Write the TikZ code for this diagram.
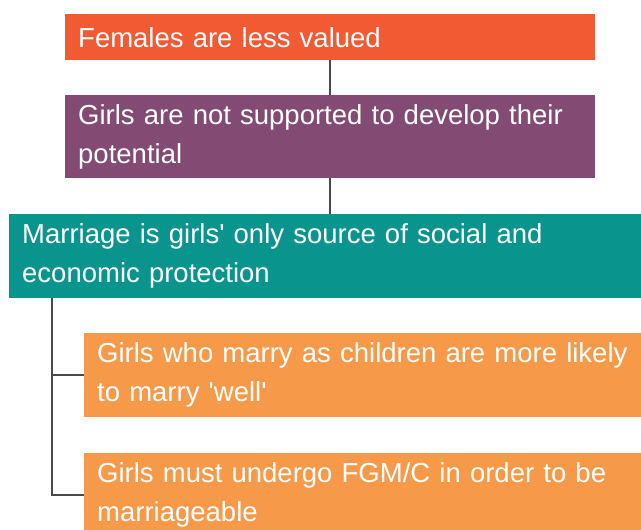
\documentclass[tikz,border=0pt]{standalone}
\usepackage{fontspec}
\setmainfont{Liberation Sans}
\usetikzlibrary{positioning}
\definecolor{valuedred}{HTML}{F15A33}
\definecolor{plum}{HTML}{834B73}
\definecolor{teal}{HTML}{09958E}
\definecolor{lightorange}{HTML}{F69A4A}
\definecolor{linkgray}{HTML}{4A4A4A}
\newcommand\q{\textquotesingle}

\begin{document}
\begin{tikzpicture}[x=1pt,y=-1pt,font=\fontsize{27.5}{39}\selectfont]
% Box and connector styles
\tikzstyle{box}=[anchor=north west,text=white,align=left,inner xsep=13pt,inner ysep=0pt]
\tikzstyle{link}=[draw=linkgray,line width=1.6pt]
\useasboundingbox (0,0) rectangle (641,530);
% The chain
\node[box,fill=valuedred,text width=504pt,minimum height=46pt](less) at (65,14) {Females are less valued};
\node[box,fill=plum,text width=504pt,minimum height=83pt](support) at (65,95) {Girls are not supported to develop their\\potential};
\node[box,fill=teal,text width=606pt,minimum height=84pt](protect) at (9,214) {Marriage is girls\q{} only source of social and\\economic protection};
% The two consequences
\node[box,fill=lightorange,text width=531pt,minimum height=84pt](well) at (84,333) {Girls who marry as children are more likely\\to marry \q{}well\q{}};
\node[box,fill=lightorange,text width=531pt,minimum height=84pt](fgm) at (84,453) {Girls must undergo FGM/C in order to be\\marriageable};
% connectors
\draw[link](less.south)--(support.north);
\draw[link](support.south)--(support.south|-protect.north);
\coordinate(fork) at ([xshift=43pt]protect.south west);
\draw[link](fork)|-(well.west);
\draw[link](fork)|-(fgm.west);
\end{tikzpicture}
\end{document}
